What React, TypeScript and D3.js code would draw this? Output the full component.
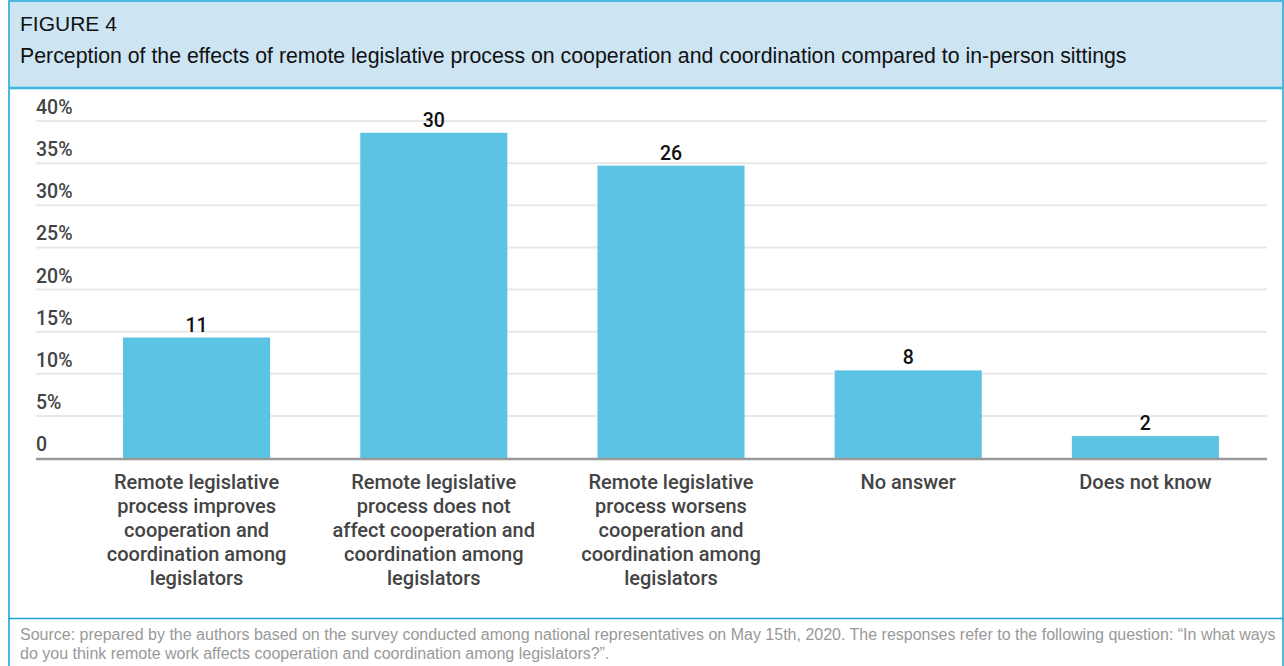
import React from "react";
import * as d3 from "d3";

const figureLabel = "FIGURE 4";
const title =
  "Perception of the effects of remote legislative process on cooperation and coordination compared to in-person sittings";
const categories: string[][] = [
  ["Remote legislative", "process improves", "cooperation and", "coordination among", "legislators"],
  ["Remote legislative", "process does not", "affect cooperation and", "coordination among", "legislators"],
  ["Remote legislative", "process worsens", "cooperation and", "coordination among", "legislators"],
  ["No answer"],
  ["Does not know"],
];
const percentValues = [14.3, 38.6, 34.7, 10.4, 2.6];
const countLabels = ["11", "30", "26", "8", "2"];
const yTicks = [0, 5, 10, 15, 20, 25, 30, 35, 40];
const sourceLines = [
  "Source: prepared by the authors based on the survey conducted among national representatives on May 15th, 2020. The responses refer to the following question: \u201CIn what ways",
  "do you think remote work affects cooperation and coordination among legislators?\u201D.",
];

const W = 1284;
const H = 666;
const FONT = "Roboto, 'Noto Sans', sans-serif";
const ARIAL = "'Liberation Sans', Arial, sans-serif";

export default function App() {
  const y = d3.scaleLinear().domain([0, 40]).range([458, 121]);
  const x = d3
    .scaleBand<number>()
    .domain(d3.range(categories.length))
    .range([78, 1264])
    .paddingInner(0.38)
    .paddingOuter(0.19);

  return (
    <svg
      width={W}
      height={H}
      style={{ position: "absolute", left: 0, top: 0, background: "#fff" }}
    >
      {/* card */}
      <rect x={8} y={0} width={W - 8} height={88} fill="#cde4f3" />
      <line x1={8} x2={W} y1={1} y2={1} stroke="#4fb8e0" strokeWidth={2} />
      <line x1={8} x2={W} y1={88} y2={88} stroke="#3cb4e0" strokeWidth={2.5} />
      <line x1={9} x2={9} y1={0} y2={H} stroke="#4fb8e0" strokeWidth={2} />
      <line x1={W - 1} x2={W - 1} y1={0} y2={H} stroke="#4fb8e0" strokeWidth={2} />
      <line x1={8} x2={W} y1={618.5} y2={618.5} stroke="#1aa3d6" strokeWidth={1.5} />

      <text x={20} y={31} fontFamily={ARIAL} fontSize={21} fill="#111">
        {figureLabel}
      </text>
      <text x={20} y={63} fontFamily={ARIAL} fontSize={21.3} fill="#111">
        {title}
      </text>

      {/* grid */}
      {yTicks.map((t) => (
        <g key={t}>
          {t > 0 && (
            <line x1={36} x2={1267} y1={y(t)} y2={y(t)} stroke="#e8e8e8" strokeWidth={2} />
          )}
          <text
            x={36}
            y={y(t) - 7}
            fontFamily={FONT}
            fontWeight={500}
            fontSize={19.5}
            fill="#444"
          >
            {t === 0 ? "0" : `${t}%`}
          </text>
        </g>
      ))}

      {/* bars */}
      {percentValues.map((v, i) => (
        <g key={i}>
          <rect
            x={x(i)!}
            y={y(v)}
            width={x.bandwidth()}
            height={y(0) - y(v)}
            fill="#5bc3e3"
          />
          <text
            x={x(i)! + x.bandwidth() / 2}
            y={y(v) - 6}
            textAnchor="middle"
            fontFamily={FONT}
            fontWeight={500}
            fontSize={19.5}
            fill="#111"
          >
            {countLabels[i]}
          </text>
          {categories[i].map((line, j) => (
            <text
              key={j}
              x={x(i)! + x.bandwidth() / 2}
              y={489 + j * 24}
              textAnchor="middle"
              fontFamily={FONT}
              fontWeight={500}
              fontSize={20}
              fill="#444"
            >
              {line}
            </text>
          ))}
        </g>
      ))}

      <line x1={36} x2={1267} y1={y(0) + 1} y2={y(0) + 1} stroke="#999" strokeWidth={2.5} />

      {sourceLines.map((s, i) => (
        <text key={i} x={20} y={640 + i * 19} fontFamily={ARIAL} fontSize={16} fill="#999">
          {s}
        </text>
      ))}
    </svg>
  );
}
